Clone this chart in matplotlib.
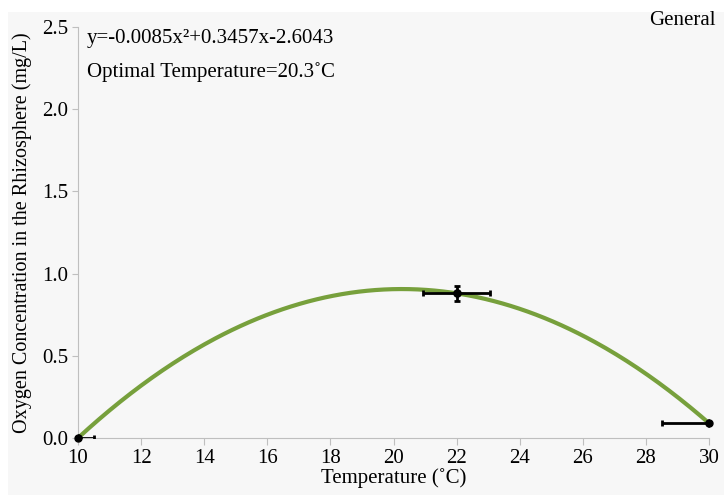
import numpy as np
import matplotlib.pyplot as plt
from matplotlib.patches import Rectangle

# data
temperature = [10, 22, 30]
oxygen = [0.0, 0.88, 0.09]
oxygen_err = [0.0, 0.045, 0.0]
temp_err = [0.5, 1.05, 1.5]

plt.rcParams['font.family'] = ['Liberation Serif', 'DejaVu Serif']

fig = plt.figure(figsize=(7.24, 4.95), dpi=100)
fig.patches.append(Rectangle((8 / 724, 0), 1, 1 - 12 / 495, transform=fig.transFigure,
                             facecolor='#f7f7f7', edgecolor='none', zorder=-10))
ax = fig.add_axes([78 / 724, 1 - 438 / 495, (709 - 78) / 724, (438 - 27) / 495])
ax.set_facecolor('#f7f7f7')

# quadratic fit through the measured points
coef = np.polyfit(temperature, oxygen, 2)
xs = np.linspace(10, 30, 300)
ax.plot(xs, np.polyval(coef, xs), color='#77a03c', lw=3, zorder=2, clip_on=False)

ax.errorbar(temperature, oxygen, xerr=temp_err, yerr=oxygen_err, fmt='o', color='black',
            ms=5, elinewidth=2, capsize=2, capthick=2, zorder=3, clip_on=True)
ax.plot(temperature, oxygen, 'o', color='black', ms=5, zorder=4, clip_on=False)

ax.set_xlim(10, 30)
ax.set_ylim(0, 2.5)
ax.set_xticks(range(10, 31, 2))
ax.set_yticks(np.arange(0, 2.51, 0.5))
ax.set_yticklabels([f'{v:.1f}' for v in np.arange(0, 2.51, 0.5)])

for s in ['top', 'right']:
    ax.spines[s].set_visible(False)
for s in ['left', 'bottom']:
    ax.spines[s].set_color('#bfbfbf')
ax.tick_params(axis='x', length=5, color='#bfbfbf', labelsize=15, pad=3)
ax.tick_params(axis='y', length=4, color='#bfbfbf', labelsize=15, pad=3)

ax.set_xlabel('Temperature (˚C)', fontsize=15, labelpad=0)
ax.set_ylabel('Oxygen Concentration in the Rhizosphere (mg/L)', fontsize=14.5, labelpad=7)

ax.text(0.014, 0.995, 'y=-0.0085x²+0.3457x-2.6043', transform=ax.transAxes,
        fontsize=15, va='top', ha='left')
ax.text(0.014, 0.915, 'Optimal Temperature=20.3˚C', transform=ax.transAxes,
        fontsize=15, va='top', ha='left')
fig.text(0.988, 0.958, 'General', fontsize=15, ha='right', va='center')

fig.savefig('out.png', dpi=100)
